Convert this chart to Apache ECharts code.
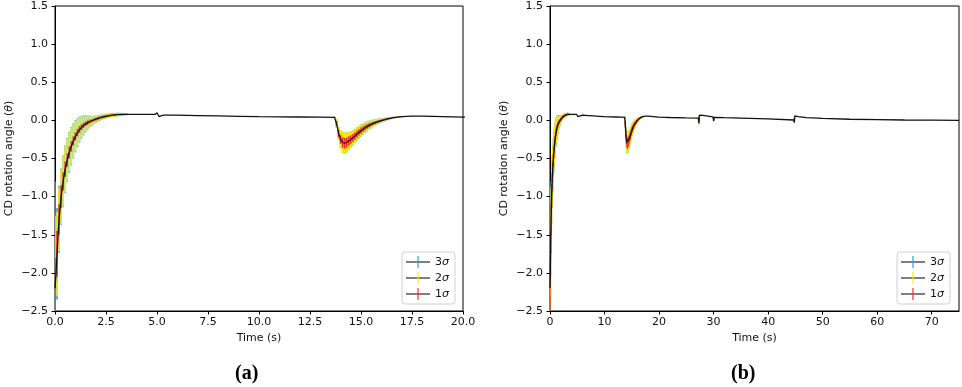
<!DOCTYPE html>
<html>
<head>
<meta charset="utf-8">
<script src="https://cdn.jsdelivr.net/npm/echarts@6/dist/echarts.min.js"></script>
<style>
html,body{margin:0;padding:0;background:#fff;}
#chart{width:962px;height:387px;}
</style>
</head>
<body>
<div id="chart"></div>
<script>
// ---- data ----
const seriesNames = ['3σ', '2σ', '1σ'];
const panelLabels = ['(a)', '(b)'];
const xMaxA = 20, xMaxB = 75;

// mean response (black line)
const lineT = [
  0, 0.05, 0.1, 0.15, 0.2, 0.3, 0.4, 0.5, 0.6, 0.7,
  0.8, 0.9, 1.0, 1.2, 1.4, 1.6, 1.8, 2.0, 2.3, 2.6,
  3.0, 3.5, 4.0, 4.9, 5.0, 5.1, 5.3, 6, 7, 8,
  9, 10, 11, 12, 13, 13.7, 13.8, 13.9, 14.0, 14.1,
  14.2, 14.3, 14.4, 14.6, 14.8, 15.0, 15.2, 15.4, 15.6, 15.8,
  16.0, 16.3, 16.6, 17.0, 17.5, 18, 19, 20, 22, 25,
  27.2, 27.3, 27.4, 28, 29.9, 30.0, 30.1, 32, 35, 40,
  44.7, 44.8, 44.9, 45.5, 47, 50, 55, 60, 65, 70,
  75
];
const lineV = [
  -2.2, -2.0, -1.75, -1.5, -1.3, -1.0, -0.8, -0.64, -0.52, -0.42,
  -0.34, -0.27, -0.21, -0.12, -0.065, -0.03, -0.005, 0.015, 0.043, 0.06,
  0.075, 0.08, 0.08, 0.078, 0.1, 0.05, 0.07, 0.068, 0.063, 0.058,
  0.053, 0.048, 0.046, 0.044, 0.042, 0.04, -0.04, -0.17, -0.25, -0.29,
  -0.30, -0.29, -0.27, -0.23, -0.18, -0.135, -0.097, -0.065, -0.04, -0.02,
  -0.002, 0.02, 0.036, 0.05, 0.056, 0.056, 0.05, 0.043, 0.038, 0.033,
  0.03, -0.04, 0.07, 0.065, 0.045, -0.01, 0.04, 0.035, 0.03, 0.02,
  0.005, -0.03, 0.06, 0.05, 0.035, 0.025, 0.015, 0.01, 0.005, 0.003,
  0.0
];

// error bars: time, centre, half-widths for 1σ, 2σ, 3σ
const barT = [
  0.0, 0.1, 0.2, 0.3, 0.4, 0.5, 0.6, 0.7, 0.8, 0.9,
  1.0, 1.1, 1.2, 1.3, 1.4, 1.5, 1.6, 1.7, 1.8, 1.9,
  2.0, 2.1, 2.2, 2.3, 2.4, 2.5, 2.6, 2.7, 2.8, 2.9,
  3.0, 3.1, 3.2, 3.3, 3.4, 3.5,
  13.7, 13.8, 13.9, 14.0, 14.1, 14.2, 14.3, 14.4, 14.5, 14.6,
  14.7, 14.8, 14.9, 15.0, 15.1, 15.2, 15.3, 15.4, 15.5, 15.6,
  15.7, 15.8, 15.9, 16.0, 16.1, 16.2, 16.3, 16.4, 16.5, 16.6,
  16.7, 16.8, 16.9, 17.0,
  27.3, 30.0, 44.8
];
const barMean = [
  -2.20, -1.75, -1.30, -1.00, -0.80, -0.64, -0.52, -0.42, -0.34, -0.27,
  -0.21, -0.16, -0.12, -0.09, -0.065, -0.045, -0.03, -0.015, -0.005, 0.005,
  0.015, 0.025, 0.035, 0.043, 0.05, 0.055, 0.06, 0.065, 0.069, 0.072,
  0.075, 0.077, 0.078, 0.079, 0.08, 0.08,
  0.04, -0.04, -0.17, -0.25, -0.29, -0.30, -0.29, -0.27, -0.25, -0.23,
  -0.205, -0.18, -0.155, -0.135, -0.115, -0.097, -0.08, -0.065, -0.052, -0.04,
  -0.03, -0.02, -0.01, -0.002, 0.006, 0.013, 0.02, 0.026, 0.031, 0.036,
  0.04, 0.044, 0.047, 0.05,
  0.01, 0.02, 0.015
];
const err1 = [
  0.40, 0.30, 0.20, 0.15, 0.12, 0.10, 0.09, 0.08, 0.07, 0.06,
  0.055, 0.05, 0.045, 0.04, 0.035, 0.03, 0.03, 0.025, 0.02, 0.02,
  0.02, 0.018, 0.016, 0.015, 0.014, 0.013, 0.012, 0.012, 0.011, 0.011,
  0.01, 0.01, 0.01, 0.009, 0.008, 0.008,
  0.005, 0.03, 0.05, 0.06, 0.07, 0.07, 0.065, 0.06, 0.055, 0.05,
  0.048, 0.045, 0.042, 0.04, 0.037, 0.034, 0.031, 0.028, 0.025, 0.022,
  0.02, 0.018, 0.016, 0.014, 0.012, 0.011, 0.01, 0.009, 0.008, 0.007,
  0.006, 0.005, 0.005, 0.004,
  0.02, 0.01, 0.015
];
const err2 = [
  0.95, 0.55, 0.42, 0.36, 0.33, 0.30, 0.28, 0.26, 0.24, 0.22,
  0.20, 0.18, 0.16, 0.14, 0.12, 0.10, 0.085, 0.07, 0.06, 0.05,
  0.045, 0.04, 0.036, 0.033, 0.03, 0.03, 0.028, 0.027, 0.026, 0.025,
  0.024, 0.022, 0.02, 0.018, 0.016, 0.014,
  0.01, 0.06, 0.09, 0.12, 0.14, 0.14, 0.13, 0.12, 0.11, 0.10,
  0.095, 0.09, 0.085, 0.08, 0.075, 0.07, 0.065, 0.06, 0.055, 0.05,
  0.045, 0.04, 0.035, 0.03, 0.027, 0.024, 0.021, 0.018, 0.016, 0.014,
  0.012, 0.01, 0.009, 0.008,
  0.05, 0.025, 0.035
];
const err3 = [
  1.40, 0.60, 0.44, 0.37, 0.34, 0.31, 0.29, 0.27, 0.25, 0.23,
  0.21, 0.19, 0.17, 0.15, 0.13, 0.11, 0.093, 0.077, 0.066, 0.055,
  0.049, 0.043, 0.039, 0.035, 0.032, 0.031, 0.029, 0.028, 0.027, 0.026,
  0.025, 0.023, 0.021, 0.019, 0.017, 0.015,
  0.01, 0.06, 0.09, 0.12, 0.14, 0.14, 0.13, 0.12, 0.11, 0.10,
  0.095, 0.09, 0.085, 0.08, 0.075, 0.07, 0.065, 0.06, 0.055, 0.05,
  0.045, 0.04, 0.035, 0.03, 0.027, 0.024, 0.021, 0.018, 0.016, 0.014,
  0.012, 0.01, 0.009, 0.008,
  0.05, 0.025, 0.035
];

// ---- styling ----
const colors = {'3σ': '#29a3e6', '2σ': '#f2f200', '1σ': '#ff2a2a'};
const errs = {'3σ': err3, '2σ': err2, '1σ': err1};
const FONT = 'DejaVu Sans';

const lineData = lineT.map((t, i) => [t, lineV[i]]);

function iconFor(c) {
  const svg = '<svg xmlns="http://www.w3.org/2000/svg" width="24" height="12">' +
    '<line x1="0" y1="6" x2="24" y2="6" stroke="#555" stroke-width="1.5"/>' +
    '<line x1="12" y1="0" x2="12" y2="12" stroke="' + c + '" stroke-width="1.2"/></svg>';
  return 'image://data:image/svg+xml;charset=utf-8,' + encodeURIComponent(svg);
}

const chart = echarts.init(document.getElementById('chart'), null, {renderer: 'canvas'});

const grids = [
  {left: 55, top: 6, width: 408, height: 305, show: true, borderColor: '#000', borderWidth: 1},
  {left: 550, top: 6, width: 409, height: 305, show: true, borderColor: '#000', borderWidth: 1}
];

function yAx(gi) {
  return {
    gridIndex: gi, type: 'value', min: -2.5, max: 1.5, interval: 0.5,
    name: '{n|CD rotation angle (}{t|θ}{n|)}',
    nameLocation: 'middle', nameGap: 40, nameRotate: 90,
    nameTextStyle: {rich: {n: {fontFamily: FONT, fontSize: 11, color: '#111'},
                           t: {fontFamily: FONT, fontSize: 11, fontStyle: 'italic', color: '#111'}}},
    axisLine: {show: true, lineStyle: {color: '#000', width: 1}},
    axisTick: {show: true, inside: false, length: 3.5, lineStyle: {color: '#000'}},
    axisLabel: {margin: 7, fontFamily: FONT, fontSize: 11, color: '#111',
      formatter: v => v.toFixed(1).replace('-', '\u2212')},
    splitLine: {show: false}
  };
}
function xAx(gi, max, interval, dec) {
  return {
    gridIndex: gi, type: 'value', min: 0, max: max, interval: interval,
    name: 'Time (s)', nameLocation: 'middle', nameGap: 21,
    nameTextStyle: {fontFamily: FONT, fontSize: 11, color: '#111'},
    axisLine: {show: true, onZero: false, lineStyle: {color: '#000', width: 1}},
    axisTick: {show: true, inside: false, length: 3.5, lineStyle: {color: '#000'}},
    axisLabel: {margin: 6, fontFamily: FONT, fontSize: 11, color: '#111',
      formatter: v => v.toFixed(dec), showMaxLabel: dec === 1},
    splitLine: {show: false}
  };
}

const series = [];
[0, 1].forEach(gi => {
  seriesNames.forEach(name => {
    const e = errs[name];
    series.push({
      type: 'custom', name: name, xAxisIndex: gi, yAxisIndex: gi, clip: true,
      data: barT.map((t, i) => [t, barMean[i], e[i]]),
      encode: {x: 0, y: 1},
      renderItem: function (params, api) {
        const x = api.value(0), m = api.value(1), er = api.value(2);
        const p1 = api.coord([x, m - er]);
        const p2 = api.coord([x, m + er]);
        return {type: 'line', shape: {x1: p1[0], y1: p1[1], x2: p2[0], y2: p2[1]},
                style: {stroke: colors[name], lineWidth: gi === 0 ? 1.6 : 1.2}};
      },
      silent: true, animation: false
    });
  });
  series.push({
    type: 'line', name: 'mean', xAxisIndex: gi, yAxisIndex: gi,
    data: lineData, showSymbol: false, symbol: 'none', clip: true,
    lineStyle: {color: '#111', width: 1.3}, animation: false, silent: true, z: 5
  });
});

function legendFor(left) {
  return {
    orient: 'vertical', left: left, top: 252,
    data: seriesNames.map(n => ({name: n, icon: iconFor(colors[n])})),
    itemWidth: 24, itemHeight: 12, itemGap: 4,
    padding: [4, 6, 4, 4],
    backgroundColor: '#fff', borderColor: '#d0d0d0', borderWidth: 1, borderRadius: 3,
    selectedMode: false,
    formatter: n => '{a|' + n.charAt(0) + '}{b|σ}',
    textStyle: {rich: {a: {fontFamily: FONT, fontSize: 11, color: '#111'},
                       b: {fontFamily: FONT, fontSize: 11, fontStyle: 'italic', color: '#111'}}}
  };
}

chart.setOption({
  backgroundColor: '#fff',
  animation: false,
  grid: grids,
  xAxis: [xAx(0, xMaxA, 2.5, 1), xAx(1, xMaxB, 10, 0)],
  yAxis: [yAx(0), yAx(1)],
  legend: [legendFor(402), legendFor(897)],
  series: series,
  graphic: [
    {type: 'text', left: 235, top: 364, style: {text: panelLabels[0], font: 'bold 20px "Liberation Serif"', fill: '#000'}},
    {type: 'text', left: 731, top: 364, style: {text: panelLabels[1], font: 'bold 20px "Liberation Serif"', fill: '#000'}}
  ]
});
</script>
</body>
</html>
